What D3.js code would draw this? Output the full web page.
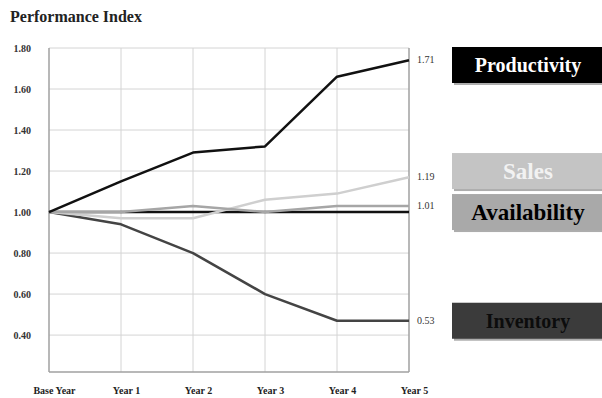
<!DOCTYPE html>
<html>
<head>
<meta charset="utf-8">
<script src="https://cdn.jsdelivr.net/npm/d3@7"></script>
<style>
  body { margin: 0; background: #fff; }
  text { font-family: "Liberation Serif", "Times New Roman", serif; }
</style>
</head>
<body>
<div id="chart"></div>
<script>
// Data
var years = ["Base Year", "Year 1", "Year 2", "Year 3", "Year 4", "Year 5"];
var seriesNames = ["Productivity", "Sales", "Availability", "Inventory"];
var productivity = [1.00, 1.15, 1.29, 1.32, 1.66, 1.74];
var sales = [1.00, 0.97, 0.97, 1.06, 1.09, 1.17];
var availability = [1.00, 1.00, 1.03, 1.00, 1.03, 1.03];
var inventory = [1.00, 0.94, 0.80, 0.60, 0.47, 0.47];
var endLabels = ["1.71", "1.19", "1.01", "0.53"];
var yTicks = [0.40, 0.60, 0.80, 1.00, 1.20, 1.40, 1.60, 1.80];
var baseline = 1.00;

var seriesValues = [productivity, sales, availability, inventory];

// Look of each series: line colour, legend fill, legend text colour, text size
var looks = {
  Productivity: { line: "#111", fill: "#000", text: "#fff", size: 20 },
  Sales: { line: "#cfcfcf", fill: "#c4c4c4", text: "#f2f2f2", size: 23 },
  Availability: { line: "#a6a6a6", fill: "#a9a9a9", text: "#000", size: 23 },
  Inventory: { line: "#444", fill: "#3b3b3b", text: "#0c0c0c", size: 20 }
};

var svgWidth = 602;
var svgHeight = 398;

var svg = d3.select("#chart")
  .append("svg")
  .attr("width", svgWidth)
  .attr("height", svgHeight);

// Scales
var x = d3.scalePoint()
  .domain(years)
  .range([49, 409]);

var y = d3.scaleLinear()
  .domain([0.22, 1.80])
  .range([372, 48]);

// Title
svg.append("text")
  .attr("x", 10)
  .attr("y", 22)
  .attr("font-size", 16)
  .attr("font-weight", "bold")
  .attr("fill", "#222")
  .text("Performance Index");

// Horizontal gridlines
svg.append("g")
  .selectAll("line")
  .data(yTicks)
  .enter()
  .append("line")
  .attr("x1", x.range()[0])
  .attr("x2", x.range()[1])
  .attr("y1", d => y(d))
  .attr("y2", d => y(d))
  .attr("stroke", "#d4d4d4")
  .attr("stroke-width", 1);

// Vertical gridlines
svg.append("g")
  .selectAll("line")
  .data(years)
  .enter()
  .append("line")
  .attr("x1", d => x(d))
  .attr("x2", d => x(d))
  .attr("y1", y.range()[1])
  .attr("y2", y.range()[0])
  .attr("stroke", (d, i) => (i === 0 || i === years.length - 1) ? "#a0a0a0" : "#d4d4d4")
  .attr("stroke-width", (d, i) => (i === 0 || i === years.length - 1) ? 1.5 : 1);

// Bottom edge of the plot
svg.append("line")
  .attr("x1", x.range()[0])
  .attr("x2", x.range()[1])
  .attr("y1", y.range()[0])
  .attr("y2", y.range()[0])
  .attr("stroke", "#a0a0a0")
  .attr("stroke-width", 1.5);

// Y tick labels
var leftAxis = d3.axisLeft(y)
  .tickValues(yTicks)
  .tickFormat(d3.format(".2f"))
  .tickSize(0)
  .tickPadding(0);

var yAxis = svg.append("g")
  .attr("transform", "translate(31, 0)")
  .call(leftAxis);
yAxis.select(".domain").remove();
yAxis.selectAll("text")
  .attr("font-family", "Liberation Serif, serif")
  .attr("font-size", 10)
  .attr("font-weight", "bold")
  .attr("fill", "#333");

// X labels
var bottomAxis = d3.axisBottom(x)
  .tickSize(0)
  .tickPadding(0);

var xAxis = svg.append("g")
  .attr("transform", "translate(5, 387)")
  .call(bottomAxis);
xAxis.select(".domain").remove();
xAxis.selectAll("text")
  .attr("font-family", "Liberation Serif, serif")
  .attr("font-size", 10)
  .attr("font-weight", "bold")
  .attr("fill", "#222");

// Reference line at 1.00
svg.append("line")
  .attr("x1", x(years[0]))
  .attr("x2", x(years[years.length - 1]))
  .attr("y1", y(baseline))
  .attr("y2", y(baseline))
  .attr("stroke", "#111")
  .attr("stroke-width", 2.5);

// Series lines
var line = d3.line()
  .x((d, i) => x(years[i]))
  .y(d => y(d));

// draw order: inventory, sales, availability, productivity
[3, 1, 2, 0].forEach(function(k) {
  svg.append("path")
    .datum(seriesValues[k])
    .attr("d", line)
    .attr("fill", "none")
    .attr("stroke", looks[seriesNames[k]].line)
    .attr("stroke-width", 2.5)
    .attr("stroke-linejoin", "round");
});

// End value labels
svg.append("g")
  .selectAll("text")
  .data(seriesNames)
  .enter()
  .append("text")
  .attr("x", x(years[years.length - 1]) + 8)
  .attr("y", (d, i) => y(seriesValues[i][years.length - 1]) + 3)
  .attr("font-size", 10)
  .attr("fill", "#333")
  .text((d, i) => endLabels[i]);

// Legend boxes: centred on each series end, pushed apart so they don't overlap
var boxH = 36;
var gap = 5;
var centres = seriesValues.map(v => y(v[v.length - 1]));
// keep inside plot top
centres[0] = Math.max(centres[0], y.range()[1] + boxH / 2 - 1);
// spread neighbours evenly around their mean when they collide
for (var i = 1; i < centres.length; i++) {
  if (centres[i] - centres[i - 1] < boxH + gap) {
    var mid = (centres[i] + centres[i - 1]) / 2;
    centres[i - 1] = mid - (boxH + gap) / 2;
    centres[i] = mid + (boxH + gap) / 2;
  }
}

var legend = svg.append("g")
  .selectAll("g")
  .data(seriesNames)
  .enter()
  .append("g")
  .attr("transform", (d, i) => `translate(452, ${centres[i] - boxH / 2})`);

legend.append("rect")
  .attr("x", 2)
  .attr("y", 2)
  .attr("width", 160)
  .attr("height", boxH)
  .attr("fill", "#777")
  .attr("opacity", 0.6);

legend.append("rect")
  .attr("width", 160)
  .attr("height", boxH)
  .attr("fill", d => looks[d].fill);

legend.append("text")
  .attr("x", 76)
  .attr("y", boxH / 2)
  .attr("dy", "0.35em")
  .attr("text-anchor", "middle")
  .attr("font-size", d => looks[d].size)
  .attr("font-weight", "bold")
  .attr("fill", d => looks[d].text)
  .text(d => d);
</script>
</body>
</html>
